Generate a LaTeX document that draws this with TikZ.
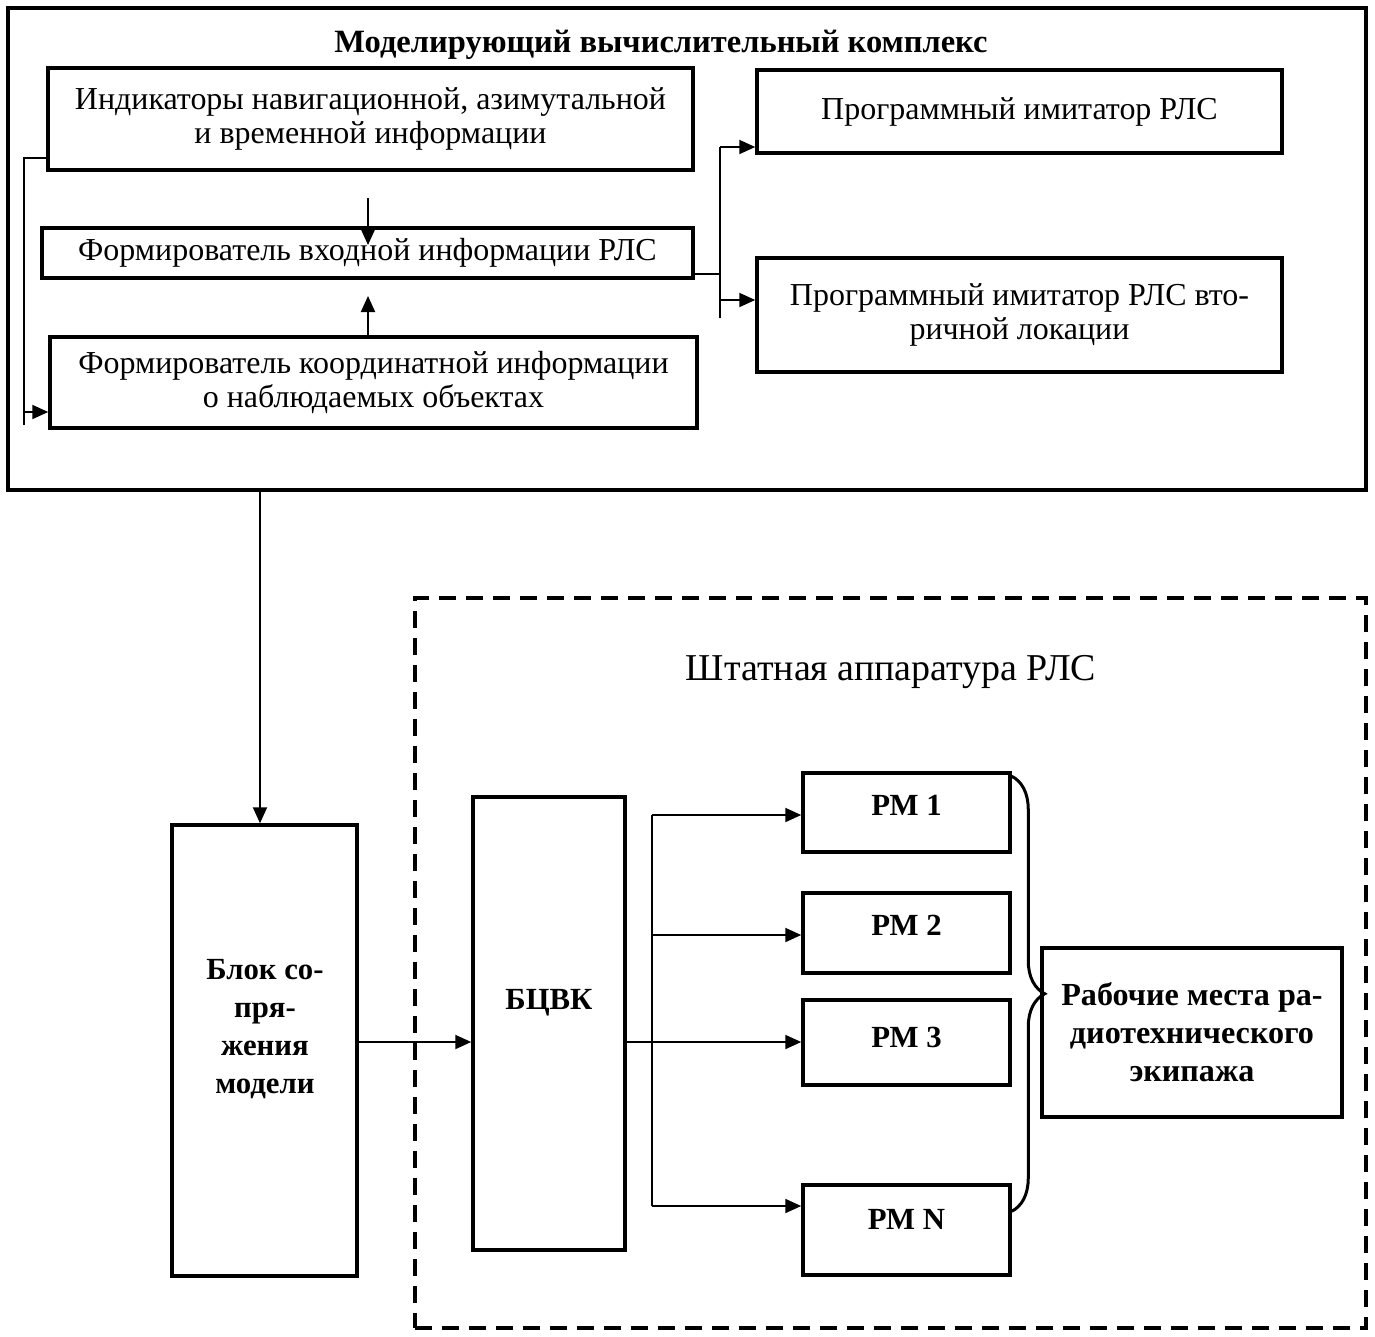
\documentclass[tikz,border=0pt]{standalone}
\usepackage{fontspec}
\setmainfont{Liberation Serif}
\usetikzlibrary{arrows.meta,calc,decorations.pathreplacing}

\begin{document}
\begin{tikzpicture}[
    x=0.02cm,y=-0.02cm,
    block/.style={draw=black,line width=0.07cm,inner sep=0pt,align=center,font=\fontsize{18.2}{19.4}\selectfont},
    bblock/.style={block,font=\bfseries\fontsize{18.3}{21.6}\selectfont},
    btext/.style={inner sep=0pt,align=center,font=\bfseries\fontsize{17.5}{21.6}\selectfont},
    conn/.style={line width=0.04cm},
    arr/.style={conn,-{Triangle[length=0.32cm,width=0.28cm]}},
    frame/.style={draw=black,line width=0.07cm,inner sep=0pt}
]
\useasboundingbox (0,0) rectangle (1375,1336);

% modelling complex
\node[frame,minimum width=1358*0.02cm,minimum height=482*0.02cm] (mvk) at (687,249) {};
\node[font=\bfseries\fontsize{18.5}{20}\selectfont] (mvkt) at (661,45) {Моделирующий вычислительный комплекс};
\node[block,minimum width=645*0.02cm,minimum height=102*0.02cm] (ind) at (370.5,119)
{Индикаторы навигационной, азимутальной\\и временной информации};
\node[block,minimum width=651*0.02cm,minimum height=50*0.02cm] (fvx) at (367.5,253)
{Формирователь входной информации РЛС};
\node[block,minimum width=647*0.02cm,minimum height=91*0.02cm] (fko) at (373.5,382.5)
{Формирователь координатной информации\\о наблюдаемых объектах};
\node[block,minimum width=525*0.02cm,minimum height=83*0.02cm] (imi) at (1019.5,111.5)
{Программный имитатор РЛС};
\node[block,minimum width=525*0.02cm,minimum height=114*0.02cm] (imv) at (1019.5,315)
{Программный имитатор РЛС вто-\\ричной локации};

\coordinate (lbt) at (24,158);
\coordinate (lbb) at (24,425);
\draw[conn] (ind.west |- lbt) -- (lbt) -- (lbb);
\draw[arr] (lbt |- 0,412) -- (fko.west |- 0,412);
\coordinate (dn) at (368,198);
\draw[arr] (dn) -- ++(0,47);
\draw[arr] (fko.north -| dn) -- (368,296);
\coordinate (rbt) at (720,147);
\coordinate (rbb) at (720,318);
\draw[conn] (fvx.east |- 0,274) -- (rbt |- 0,274);
\draw[conn] (rbt) -- (rbb);
\draw[arr] (rbt) -- (imi.west |- rbt);
\draw[arr] (rbt |- 0,300) -- (imv.west |- 0,300);

% interface block
\node[block,minimum width=185*0.02cm,minimum height=451*0.02cm] (bsm) at (264.5,1050.5) {};
\node[btext] (bsmt) at (265,1029) {Блок со-\\пря-\\жения\\модели};
\draw[arr] (mvk.south -| 260,0) -- (bsm.north -| 260,0);

% standard equipment
\node[frame,dash pattern=on 0.34cm off 0.2cm,minimum width=951*0.02cm,minimum height=730*0.02cm] (sht) at (890.5,963) {};
\node[font=\fontsize{21.6}{24}\selectfont] (shtt) at (891,672) {Штатная аппаратура РЛС};
\node[bblock,minimum width=152*0.02cm,minimum height=453*0.02cm] (bcvk) at (549,1023.5) {};
\node[btext] (bcvkt) at (549,1003) {БЦВК};
\node[bblock,minimum width=207*0.02cm,minimum height=79*0.02cm] (pm1) at (906.5,812.5) {};
\node[btext] at (906.5,805) {РМ 1};
\node[bblock,minimum width=207*0.02cm,minimum height=80*0.02cm] (pm2) at (906.5,933) {};
\node[btext] at (906.5,925) {РМ 2};
\node[bblock,minimum width=207*0.02cm,minimum height=85*0.02cm] (pm3) at (906.5,1042.5) {};
\node[btext] at (906.5,1037) {РМ 3};
\node[bblock,minimum width=207*0.02cm,minimum height=90*0.02cm] (pmn) at (906.5,1230) {};
\node[btext] at (906.5,1219) {РМ N};
\node[bblock,minimum width=300*0.02cm,minimum height=169*0.02cm] (rme) at (1192,1032.5)
{Рабочие места ра-\\диотехнического\\экипажа};

\draw[arr] (bsm.east |- 0,1042) -- (bcvk.west |- 0,1042);
\draw[arr] (bcvk.east |- 0,1042) -- (pm3.west |- 0,1042);
\coordinate (bbt) at (652,815);
\coordinate (bbb) at (652,1206);
\draw[conn] (bbt) -- (bbb);
\draw[arr] (bbt) -- (pm1.west |- bbt);
\draw[arr] (bbt |- 0,935) -- (pm2.west |- 0,935);
\draw[arr] (bbb) -- (pmn.west |- bbb);

\draw[line width=0.06cm,decorate,decoration={brace,amplitude=0.66cm}]
  ($(pm1.north east)+(0,5)$) -- ($(pmn.north east)+(0,28)$);
\end{tikzpicture}
\end{document}
